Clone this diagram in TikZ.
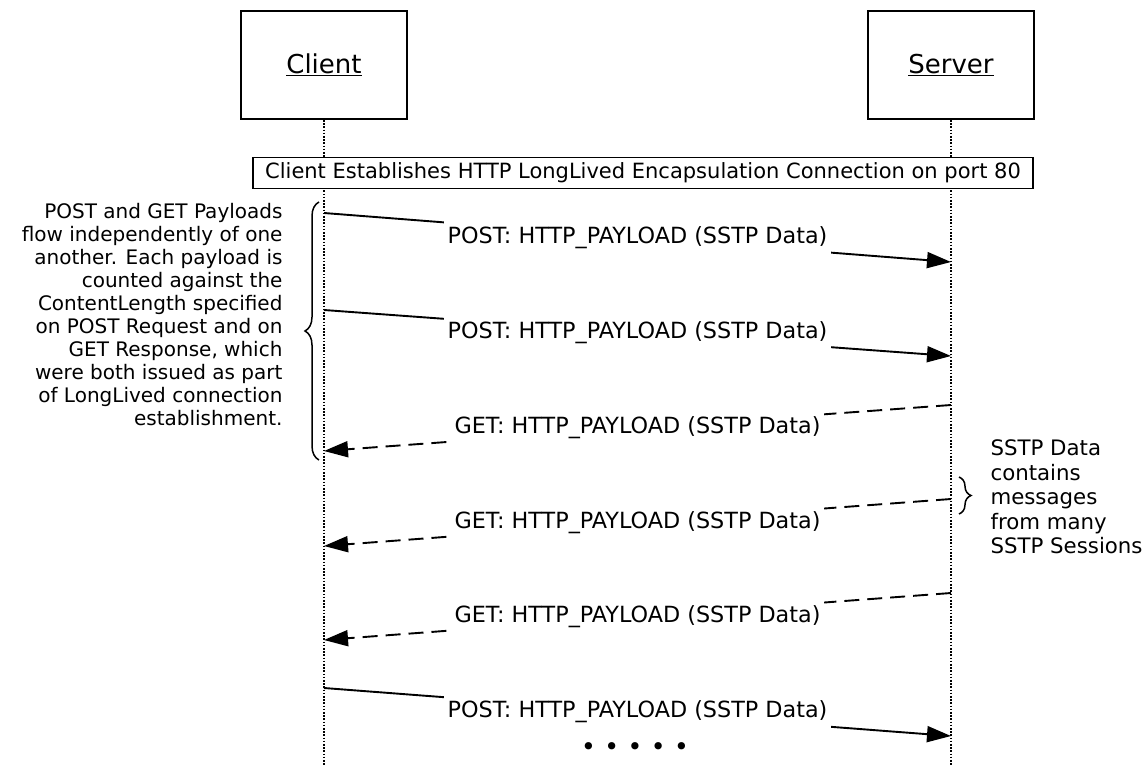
\documentclass[tikz,border=0pt]{standalone}
\usepackage{fontspec}
\setmainfont{DejaVu Sans}
\usetikzlibrary{arrows.meta,decorations.pathreplacing}
\begin{document}
\begin{tikzpicture}[x=1pt,y=-1pt,
  actor/.style={draw,line width=1.8pt,minimum width=166pt,minimum height=108pt,font=\fontsize{26}{30}\selectfont},
  life/.style={line width=1.3pt,dash pattern=on 1.6pt off 1.6pt},
  msg/.style={line width=1.9pt,-{Triangle[length=24pt,width=16pt]}},
  getmsg/.style={msg,dash pattern=on 15pt off 8pt},
  lbl/.style={fill=white,inner xsep=4pt,inner ysep=8pt,font=\fontsize{22.3}{26}\selectfont},
  note/.style={font=\fontsize{20}{23}\selectfont},
  brc/.style={decorate,decoration={brace,amplitude=14pt},line width=1.5pt}]
\useasboundingbox (0,0) rectangle (1146,766);
% actors
\node[actor] (client) at (324,65) {\underline{Client}};
\node[actor] (server) at (951,65) {\underline{Server}};
\coordinate (cend) at (324,766);
\coordinate (send) at (951,766);
\draw[life] (client.south) -- (cend);
\draw[life] (server.south) -- (send);
% banner
\node[draw,fill=white,line width=1.8pt,minimum width=780pt,minimum height=31pt,inner xsep=4pt,
  font=\fontsize{21}{25}\selectfont] (banner) at (643,173)
  {Client Establishes HTTP LongLived Encapsulation Connection on port 80};
% lifeline points
\coordinate (p1s) at (324,213); \coordinate (p1e) at (951,262);
\coordinate (p2s) at (324,310); \coordinate (p2e) at (951,356);
\coordinate (g1s) at (951,405); \coordinate (g1e) at (324,451);
\coordinate (g2s) at (951,499); \coordinate (g2e) at (324,546);
\coordinate (g3s) at (951,593); \coordinate (g3e) at (324,640);
\coordinate (p3s) at (324,688); \coordinate (p3e) at (951,736);
% messages
\draw[msg] (p1s) -- node[lbl] (l1) {POST: HTTP\_PAYLOAD (SSTP Data)} (p1e);
\draw[msg] (p2s) -- node[lbl] (l2) {POST: HTTP\_PAYLOAD (SSTP Data)} (p2e);
\draw[getmsg] (g1s) -- node[lbl] (l3) {GET: HTTP\_PAYLOAD (SSTP Data)} (g1e);
\draw[getmsg] (g2s) -- node[lbl] (l4) {GET: HTTP\_PAYLOAD (SSTP Data)} (g2e);
\draw[getmsg] (g3s) -- node[lbl] (l5) {GET: HTTP\_PAYLOAD (SSTP Data)} (g3e);
\draw[msg] (p3s) -- node[lbl] (l6) {POST: HTTP\_PAYLOAD (SSTP Data)} (p3e);
% dots
\node[font=\fontsize{25}{28}\selectfont] (dots) at (635,749)
  {•\hspace{8.5pt}•\hspace{8.5pt}•\hspace{8.5pt}•\hspace{8.5pt}•};
% left note and brace
\node[note,align=right,anchor=east] (lnote) at (286,315)
  {POST and GET Payloads\\flow independently of one\\another. Each payload is\\counted against the\\ContentLength specified\\on POST Request and on\\GET Response, which\\were both issued as part\\of LongLived connection\\establishment.};
\coordinate (bl1) at (319,460);
\coordinate (bl2) at (319,202);
\draw[brc] (bl1) -- (bl2);
% right note and brace
\node[note,font=\fontsize{21.3}{24.5}\selectfont,align=left,anchor=west] (rnote) at (987,497)
  {SSTP Data\\contains\\messages\\from many\\SSTP Sessions};
\coordinate (br1) at (959,477);
\coordinate (br2) at (959,514);
\draw[brc,decoration={brace,amplitude=12pt}] (br1) -- (br2);
\end{tikzpicture}
\end{document}
